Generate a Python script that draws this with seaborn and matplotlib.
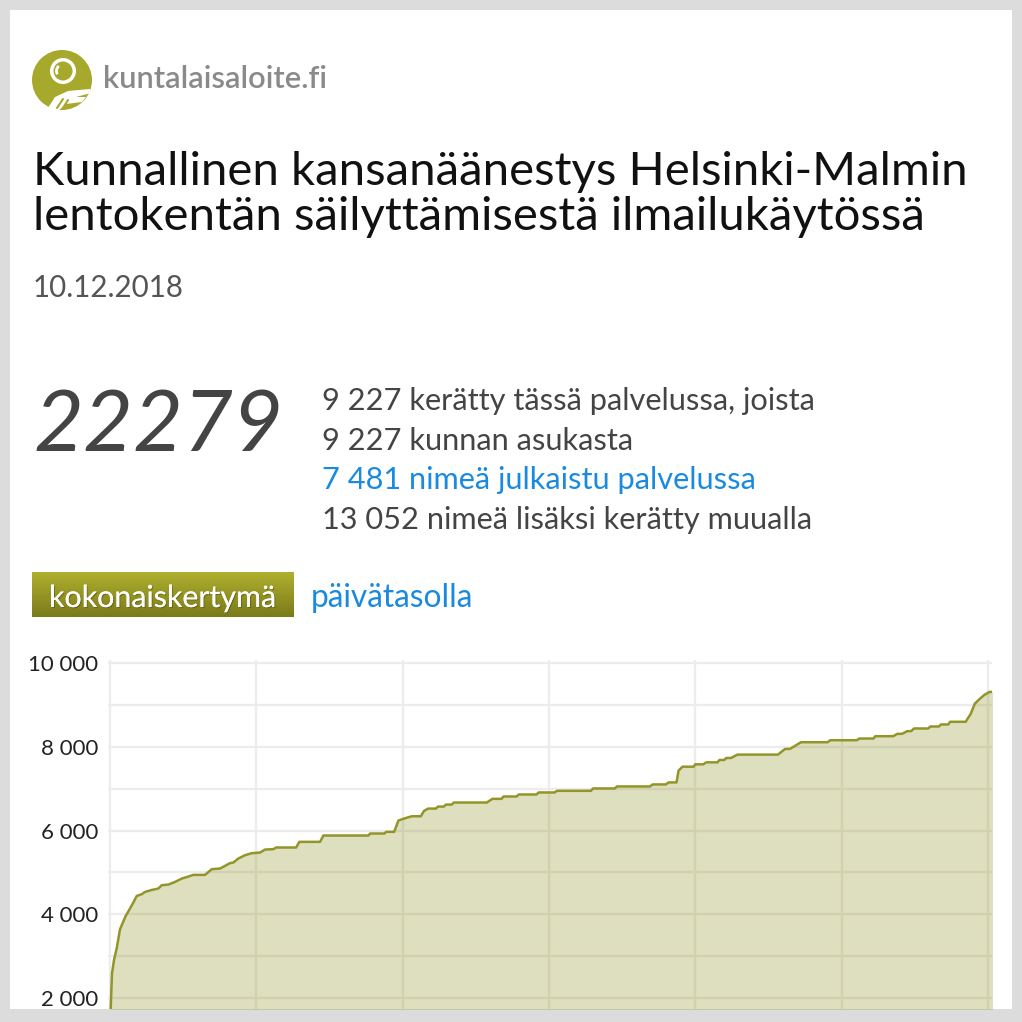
import matplotlib.pyplot as plt
import matplotlib.patches as mpatches
import matplotlib.patheffects as pe
from matplotlib.colors import LinearSegmentedColormap
import numpy as np
import seaborn as sns

days = [0.06, 0.41, 0.82, 1.37, 1.91, 2.05, 3.22, 4.10, 4.78, 5.48, 6.50, 7.18, 8.55,
        9.91, 10.60, 11.96, 13.33, 14.71, 16.06, 17.08, 19.48, 20.86, 22.56, 23.59,
        24.61, 25.29, 26.31, 27.69, 29.06, 30.77, 31.79, 33.49, 34.05, 38.15, 38.83,
        43.07, 43.75, 52.98, 53.33, 56.26, 56.61, 58.25, 59.13, 60.50, 61.88, 63.72,
        64.37, 65.19, 66.82, 67.23, 68.45, 68.86, 70.08, 70.49, 77.25, 78.40, 80.27,
        80.68, 83.37, 83.78, 87.45, 87.85, 91.11, 91.68, 98.61, 99.02, 103.51, 103.91,
        110.68, 111.25, 113.94, 114.51, 116.14, 116.55, 117.37, 119.65, 119.98, 121.61,
        122.26, 124.54, 124.95, 125.93, 126.33, 127.31, 128.62, 136.93, 138.40, 139.38,
        140.19, 141.66, 147.12, 147.69, 153.08, 153.65, 156.50, 156.91, 160.58, 161.39,
        162.37, 163.43, 164.25, 164.82, 167.75, 168.16, 169.95, 170.36, 171.83, 172.24,
        175.42, 176.47, 177.29, 178.35, 179.33, 180.31, 180.96]
signatures = [1500, 2589, 2907, 3186, 3544, 3642, 3960, 4135, 4279, 4437, 4478, 4533, 4580,
              4614, 4693, 4709, 4772, 4852, 4900, 4940, 4940, 5076, 5092, 5156,
              5220, 5236, 5331, 5410, 5458, 5474, 5545, 5554, 5594, 5594, 5729,
              5729, 5880, 5880, 5928, 5928, 5968, 5968, 6238, 6293, 6340, 6340,
              6467, 6523, 6523, 6571, 6571, 6619, 6619, 6668, 6668, 6756, 6756,
              6812, 6812, 6860, 6860, 6908, 6908, 6948, 6948, 7004, 7004, 7052,
              7052, 7100, 7100, 7148, 7148, 7428, 7524, 7524, 7580, 7580,
              7628, 7628, 7684, 7684, 7732, 7732, 7812, 7812, 7948, 7948,
              8004, 8108, 8108, 8156, 8156, 8196, 8196, 8252, 8252, 8308,
              8308, 8372, 8372, 8436, 8436, 8484, 8484, 8532, 8532, 8596,
              8596, 8788, 9028, 9148, 9245, 9309, 9309]

y_major = [2000, 4000, 6000, 8000, 10000]
y_labels = ['2 000', '4 000', '6 000', '8 000', '10 000']
y_minor = [3000, 5000, 7000, 9000]
x_grid = [0, 30, 60, 90, 120, 150, 180]

logo_text = 'kuntalaisaloite.fi'
title_lines = ['Kunnallinen kansanäänestys Helsinki-Malmin',
               'lentokentän säilyttämisestä ilmailukäytössä']
date_text = '10.12.2018'
total_text = '22279'
info_lines = ['9 227 kerätty tässä palvelussa, joista',
              '9 227 kunnan asukasta',
              '7 481 nimeä julkaistu palvelussa',
              '13 052 nimeä lisäksi kerätty muualla']
info_colors = ['#444444', '#444444', '#1a8ae0', '#444444']
tab_active = 'kokonaiskertymä'
tab_other = 'päivätasolla'

olive = '#939528'
blue = '#1a8ae0'

sns.set_style('white')
plt.rcParams['font.family'] = ['Lato', 'DejaVu Sans']

W = 1022
fig = plt.figure(figsize=(10.22, 10.22), dpi=100, facecolor='#dcdcdc')

# background layer in pixel coordinates (y grows downward)
bg = fig.add_axes([0, 0, 1, 1], zorder=0)
bg.axis('off')
bg.add_patch(mpatches.Rectangle((10, 10), 1002, 999, facecolor='white', edgecolor='none'))

# logo
logo_c = '#a7a92c'
bg.add_patch(mpatches.Circle((62, 80), 30, facecolor=logo_c, edgecolor='none'))
bg.add_patch(mpatches.Circle((63, 71), 13, facecolor='white', edgecolor='none'))
bg.add_patch(mpatches.Circle((63, 71), 9.5, facecolor=logo_c, edgecolor='none'))
bg.add_patch(mpatches.Arc((63, 71), 13, 13, theta1=150, theta2=230, color='white', lw=2))
bg.add_patch(mpatches.Polygon([(46, 111), (55, 97), (68, 91), (90, 89), (91, 93), (76, 97),
                               (86, 97), (82, 102), (66, 104), (58, 111)],
                              closed=True, facecolor='white', edgecolor='none'))
bg.plot([57, 63], [108, 99], color=logo_c, lw=1.5)
bg.plot([63, 68], [108, 100], color=logo_c, lw=1.5)

t_logo = bg.text(103, 88, logo_text, fontsize=24, color='#8a8a8a', va='baseline',
                 fontweight='semibold')
t_title1 = bg.text(33, 185, title_lines[0], fontsize=31, color='#111111', va='baseline')
t_title2 = bg.text(33, 230, title_lines[1], fontsize=31, color='#111111', va='baseline')
t_date = bg.text(33, 297, date_text, fontsize=19, color='#555555', va='baseline')
t_total = bg.text(33, 451, total_text, fontsize=64, color='#444444', va='baseline',
                  style='italic')
t_info = []
for i, (line, col) in enumerate(zip(info_lines, info_colors)):
    t_info.append(bg.text(322, 410 + 39.5 * i, line, fontsize=19, color=col, va='baseline'))

# tab button with vertical gradient
grad = LinearSegmentedColormap.from_list('btn', ['#afaf2f', '#7b7b1b'])
bg.imshow(np.linspace(0, 1, 50).reshape(-1, 1), cmap=grad, aspect='auto',
          extent=(32, 294, 617, 572), zorder=2)
t_tab1 = bg.text(49, 607, tab_active, fontsize=19, color='white', va='baseline', zorder=3,
                 path_effects=[pe.withSimplePatchShadow(offset=(0.8, -0.8),
                                                        shadow_rgbFace='#4a4a10', alpha=0.5),
                               pe.Normal()])
t_tab2 = bg.text(311, 607, tab_other, fontsize=19, color=blue, va='baseline')

bg.set_xlim(0, W)
bg.set_ylim(W, 0)

# scale text to the widths seen in the reference
fig.canvas.draw()
r = fig.canvas.get_renderer()


def fit(t, width):
    bb = t.get_window_extent(r)
    t.set_fontsize(t.get_fontsize() * width / bb.width)


fit(t_logo, 224)
fit(t_title1, 929)
t_title2.set_fontsize(t_title1.get_fontsize())
fit(t_date, 151)
fit(t_total, 250)
fit(t_info[0], 493)
for t in t_info[1:]:
    t.set_fontsize(t_info[0].get_fontsize())
fit(t_tab1, 228)
fit(t_tab2, 163)

# chart area: 0 days -> x=110px, 180 days -> x=988px; 10000 -> y=663px, 2000 -> y=998px
px_day = 878 / 180
px_val = 335 / 8000
left, right, top, bottom = 108, 992, 660, 1009
ax = fig.add_axes([left / W, 1 - bottom / W, (right - left) / W, (bottom - top) / W], zorder=1)
ax.set_facecolor('white')

ax.fill_between(days, signatures, 0, color=olive, alpha=0.3, lw=0, zorder=2)
sns.lineplot(x=days, y=signatures, color=olive, lw=1.8, ax=ax, zorder=3, sort=False)

ax.set_xlim((left - 110) / px_day, (right - 110) / px_day)
ax.set_ylim(10000 - (bottom - 663) / px_val, 10000 + (663 - top) / px_val)
ax.set_xticks(x_grid)
ax.set_yticks(y_major)
ax.set_yticklabels(y_labels)
ax.set_yticks(y_minor, minor=True)
ax.set_axisbelow(True)
ax.grid(True, which='both', color='#ececec', lw=1.6)
ax.tick_params(axis='x', labelbottom=False, length=0)
ax.tick_params(axis='y', which='both', length=0, pad=7, labelsize=16, labelcolor='#222222')
for s in ax.spines.values():
    s.set_visible(False)
ax.set_xlabel('')
ax.set_ylabel('')

fig.savefig('out.png', dpi=100, facecolor=fig.get_facecolor())
